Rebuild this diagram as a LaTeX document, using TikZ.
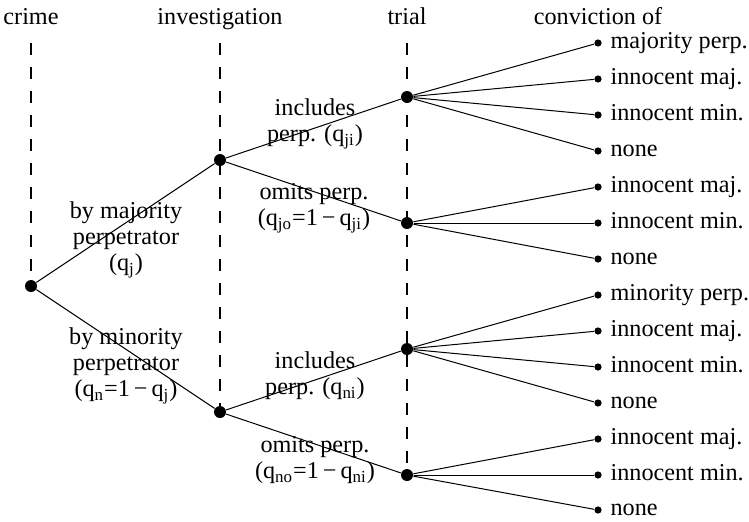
\documentclass[tikz,border=0pt]{standalone}
\usepackage{fontspec}
\setmainfont{Liberation Serif}
\usepackage{tikz}
\usetikzlibrary{positioning}
\tikzstyle{vertex}=[fill=black,circle,minimum size=6pt,inner sep=0pt]
\tikzstyle{leaf}=[fill=black,circle,minimum size=3.6pt,inner sep=0pt]
\tikzstyle{stage}=[anchor=base,inner sep=0pt]
\tikzstyle{choice}=[align=center,inner sep=0pt]
\tikzstyle{outcome}=[inner sep=0pt]
\tikzstyle{guide}=[dash pattern=on 6pt off 6pt,line width=0.6pt]
\newcommand{\qs}[1]{q\textsubscript{#1}}

\begin{document}
\begin{tikzpicture}[x=0.5pt,y=-0.5pt,line width=0.5pt,
  every node/.style={font=\fontsize{12.1}{13}\selectfont}]
\useasboundingbox (0,0) rectangle (749,521);

% stages
\node [stage] (hcrime) at (31,24) {crime};
\node [stage] (hinv) at (220,24) {investigation};
\node [stage] (htrial) at (407,24) {trial};
\node [stage] (hconv) at (598,24) {conviction of};
\coordinate (g1) at (31,43);
\coordinate (g2) at (220,43);
\coordinate (g3) at (407,43);

% decision points
\node [vertex] (root) at (31,286) {};
\node [vertex] (majinv) at (220,160) {};
\node [vertex] (mininv) at (220,412) {};
\node [vertex] (tja) at (407,97) {};
\node [vertex] (tjb) at (407,223) {};
\node [vertex] (tna) at (407,349) {};
\node [vertex] (tnb) at (407,475) {};

% outcomes
\node [leaf] (l1) at (598,43) {};
\node [leaf] (l2) at (598,79) {};
\node [leaf] (l3) at (598,115) {};
\node [leaf] (l4) at (598,151) {};
\node [leaf] (l5) at (598,187) {};
\node [leaf] (l6) at (598,223) {};
\node [leaf] (l7) at (598,259) {};
\node [leaf] (l8) at (598,295) {};
\node [leaf] (l9) at (598,331) {};
\node [leaf] (l10) at (598,367) {};
\node [leaf] (l11) at (598,403) {};
\node [leaf] (l12) at (598,439) {};
\node [leaf] (l13) at (598,475) {};
\node [leaf] (l14) at (598,510) {};
\node [outcome,right=4pt of l1,anchor=base west,yshift=-2.8pt] (o1) {majority perp.};
\node [outcome,right=4pt of l2,anchor=base west,yshift=-2.8pt] (o2) {innocent maj.};
\node [outcome,right=4pt of l3,anchor=base west,yshift=-2.8pt] (o3) {innocent min.};
\node [outcome,right=4pt of l4,anchor=base west,yshift=-2.8pt] (o4) {none};
\node [outcome,right=4pt of l5,anchor=base west,yshift=-2.8pt] (o5) {innocent maj.};
\node [outcome,right=4pt of l6,anchor=base west,yshift=-2.8pt] (o6) {innocent min.};
\node [outcome,right=4pt of l7,anchor=base west,yshift=-2.8pt] (o7) {none};
\node [outcome,right=4pt of l8,anchor=base west,yshift=-2.8pt] (o8) {minority perp.};
\node [outcome,right=4pt of l9,anchor=base west,yshift=-2.8pt] (o9) {innocent maj.};
\node [outcome,right=4pt of l10,anchor=base west,yshift=-2.8pt] (o10) {innocent min.};
\node [outcome,right=4pt of l11,anchor=base west,yshift=-2.8pt] (o11) {none};
\node [outcome,right=4pt of l12,anchor=base west,yshift=-2.8pt] (o12) {innocent maj.};
\node [outcome,right=4pt of l13,anchor=base west,yshift=-2.8pt] (o13) {innocent min.};
\node [outcome,right=4pt of l14,anchor=base west,yshift=-2.8pt] (o14) {none};

% branch labels
\node [choice] (cmaj) at (126,240) {by majority\\perpetrator\\(\qs{j})};
\node [choice] (cmin) at (126,366) {by minority\\perpetrator\\(\qs{n}=1\,−\,\qs{j})};
\node [choice] (cji) at (315,124) {includes\\perp. (\qs{ji})};
\node [choice] (cjo) at (314,208) {omits perp.\\(\qs{jo}=1\,−\,\qs{ji})};
\node [choice] (cni) at (315,376) {includes\\perp. (\qs{ni})};
\node [choice] (cno) at (315,460) {omits perp.\\(\qs{no}=1\,−\,\qs{ni})};

\draw [guide] (g1) -- (root);
\draw [guide] (g2) -- (mininv);
\draw [guide] (g3) -- (tnb);

\draw (root) -- (majinv);
\draw (root) -- (mininv);
\draw (majinv) -- (tja);
\draw (majinv) -- (tjb);
\draw (mininv) -- (tna);
\draw (mininv) -- (tnb);
\draw (tja) -- (l1);
\draw (tja) -- (l2);
\draw (tja) -- (l3);
\draw (tja) -- (l4);
\draw (tjb) -- (l5);
\draw (tjb) -- (l6);
\draw (tjb) -- (l7);
\draw (tna) -- (l8);
\draw (tna) -- (l9);
\draw (tna) -- (l10);
\draw (tna) -- (l11);
\draw (tnb) -- (l12);
\draw (tnb) -- (l13);
\draw (tnb) -- (l14);
\end{tikzpicture}
\end{document}
